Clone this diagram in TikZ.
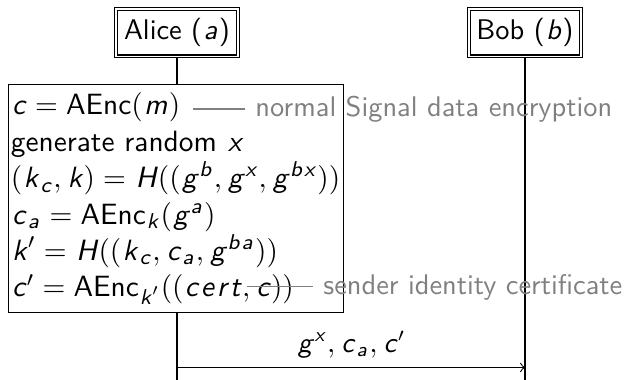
\documentclass[tikz,border=0pt]{standalone}
\usetikzlibrary{positioning}
% sans serif math letters with a little side bearing, as on the slides
\DeclareSymbolFont{sfletters}{TU}{lmss}{m}{sl}
\makeatletter
\def\sf@active#1#2{\begingroup\lccode`\~=`#2\lowercase{\endgroup\def~}{{\mkern0.8mu#1\mkern1mu}}}
\def\sf@define#1{%
  \expandafter\DeclareMathSymbol\csname sfl@#1\endcsname{\mathalpha}{sfletters}{`#1}%
  \expandafter\sf@active\csname sfl@#1\endcsname{#1}%
  \mathcode`#1="8000\relax}
\@tfor\sf@ch:=abcdefghijklmnopqrstuvwxyzABCDEFGHIJKLMNOPQRSTUVWXYZ\do{%
  \expandafter\sf@define\expandafter{\sf@ch}}
\makeatother
\newcommand{\slidefont}{\fontsize{10.6}{13.6}\selectfont\sffamily}
\newcommand{\boxfont}{\fontsize{10.95}{13.6}\selectfont\sffamily}
\newcommand{\AEnc}{\mathord{\hbox{AEnc}}}
\tikzset{
  party/.style={draw=black, double, inner xsep=2.9pt, minimum height=17.6pt, font=\slidefont},
  lifeline/.style={draw=black, line width=0.4pt},
  calcbox/.style={draw=black, fill=white, align=left, text width=123pt, inner xsep=1pt, inner ysep=3pt, font=\boxfont},
  note/.style={text=gray, inner sep=3.7pt, font=\slidefont},
  noteline/.style={draw=gray, line width=0.4pt},
  msg/.style={->, line width=0.4pt},
  msglabel/.style={font=\slidefont}
}

\begin{document}
\begin{tikzpicture}
\useasboundingbox (-2.321,-4.554) rectangle (5.928,0.4295);
\coordinate (bottom) at (0,-4.554);
\node[party] (alice) at (0,0) {Alice ($a$)};
\node[party] (bob) at (4.564,0) {Bob ($b$)};
\draw[lifeline] (alice) -- (alice |- bottom);
\draw[lifeline] (bob) -- (bob |- bottom);
\node[calcbox] (calc) at (-0.016,-2.174) {%
$c = \AEnc(m)$\\
generate random $x$\\
$(k_c, k) = H((g^b, g^x, g^{bx}))$\\
$c_a = \AEnc_k(g^a)$\\
$k' = H((k_c, c_a, g^{ba}))$\\
$c' = \AEnc_{k'}((cert, c))$};
% side remarks
\coordinate (encfrom) at (0.21,-1.0);
\node[note, anchor=west] (encnote) at (0.892,-1.0) {normal Signal data encryption};
\draw[noteline] (encfrom) -- (encnote);
\coordinate (certfrom) at (0.918,-3.334);
\node[note, anchor=west] (certnote) at (1.784,-3.334) {sender identity certificate};
\draw[noteline] (certfrom) -- (certnote);
% message
\coordinate (send) at (alice |- 0,-4.39);
\coordinate (recv) at (bob |- 0,-4.39);
\draw[msg] (send) -- node[msglabel, above] (payload) {$g^x, c_a, c'$} (recv);
\end{tikzpicture}
\end{document}
